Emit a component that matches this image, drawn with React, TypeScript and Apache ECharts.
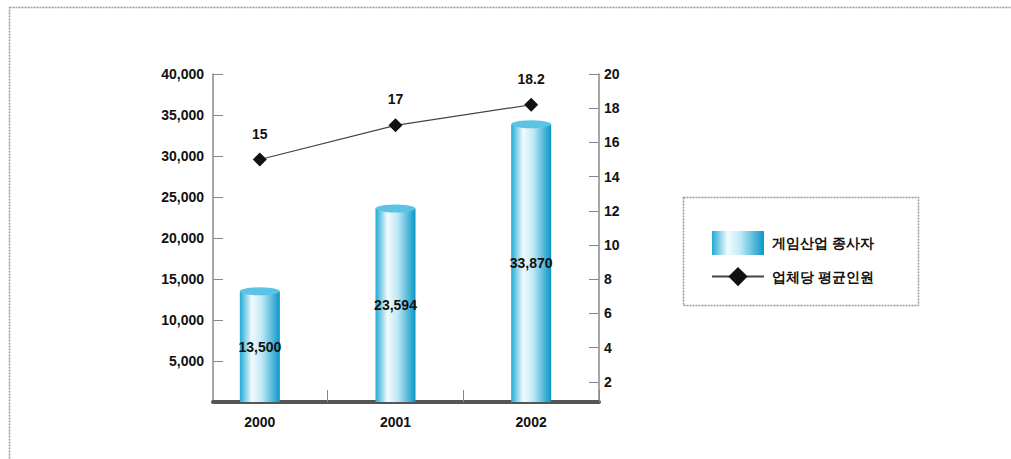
import React, { useEffect, useRef } from "react";
import * as echarts from "echarts";

const categories = ["2000", "2001", "2002"];
const workers = [13500, 23594, 33870];
const avgPerCompany = [15, 17, 18.2];
const leftTickValues = [5000, 10000, 15000, 20000, 25000, 30000, 35000, 40000];
const rightTickValues = [2, 4, 6, 8, 10, 12, 14, 16, 18, 20];
const barName = "게임산업 종사자";
const lineName = "업체당 평균인원";

const fmt = (v: number) => v.toLocaleString("en-US");
const FONT = "Liberation Sans";

export default function App() {
  const ref = useRef<HTMLDivElement>(null);
  useEffect(() => {
    if (!ref.current) return;
    const chart = echarts.init(ref.current, undefined, { renderer: "svg" });
    const barGradient = new echarts.graphic.LinearGradient(0, 0, 1, 0, [
      { offset: 0, color: "#22aad4" },
      { offset: 0.3, color: "#f2fbfe" },
      { offset: 0.55, color: "#bfe9f6" },
      { offset: 1, color: "#0a96c6" },
    ]);
    const textBase = { fontFamily: FONT, fontSize: 14, fontWeight: "bold" as const, color: "#111" };
    chart.setOption({
      animation: false,
      backgroundColor: "#fff",
      grid: [
        { left: 213, top: 74, width: 386, height: 328 },
        { left: 192, top: 74, width: 407, height: 328 },
        { left: 192, top: 74, width: 407, height: 342 },
      ],
      xAxis: [
        {
          gridIndex: 0, type: "category", data: categories,
          axisLine: { lineStyle: { color: "#555", width: 4 } },
          axisTick: { show: false }, axisLabel: { show: false }, splitLine: { show: false },
        },
        {
          gridIndex: 1, type: "category", data: categories,
          axisLine: { show: false },
          axisTick: { show: true, inside: true, length: 12, interval: (i: number) => i === 1 || i === 2, lineStyle: { color: "#888" } },
          axisLabel: { ...textBase, margin: 13 },
        },
        { gridIndex: 2, type: "category", data: categories, show: false },
      ],
      yAxis: [
        {
          gridIndex: 0, type: "value", position: "left", min: 0, max: 40000, interval: 5000,
          axisLine: { show: true, lineStyle: { color: "#888", width: 1.5 } },
          axisTick: { show: true, inside: true, length: 10, customValues: leftTickValues, lineStyle: { color: "#888" } },
          axisLabel: { ...textBase, margin: 9, customValues: leftTickValues, formatter: (v: number) => fmt(v) },
          splitLine: { show: false },
        },
        {
          gridIndex: 0, type: "value", position: "right", min: 0, max: 40000,
          axisLine: { show: true, lineStyle: { color: "#888", width: 1.5 } },
          axisTick: { show: false }, axisLabel: { show: false }, splitLine: { show: false },
        },
        { gridIndex: 1, type: "value", min: 0, max: 40000, show: false },
        {
          gridIndex: 2, type: "value", position: "right", min: 0, max: 20, interval: 2,
          axisLine: { show: false },
          axisTick: { show: true, inside: true, length: 10, customValues: rightTickValues, lineStyle: { color: "#888" } },
          axisLabel: { ...textBase, margin: 5, customValues: rightTickValues },
          splitLine: { show: false },
        },
      ],
      legend: {
        left: 706, top: 226, orient: "vertical", itemWidth: 52, itemHeight: 24, itemGap: 12,
        data: [{ name: barName, icon: "rect" }, { name: lineName }],
        textStyle: { ...textBase, padding: [0, 0, 0, 3] },
      },
      graphic: [
        { type: "rect", shape: { x: 9.5, y: 7.5, width: 1100, height: 600 }, style: { fill: "none", stroke: "#999", lineWidth: 1.5, lineDash: [2, 1] }, silent: true },
        { type: "rect", shape: { x: 683.5, y: 197.5, width: 235, height: 108 }, style: { fill: "none", stroke: "#999", lineWidth: 1.5, lineDash: [2, 1] }, silent: true },
      ],
      series: [
        {
          name: barName, type: "bar", xAxisIndex: 1, yAxisIndex: 2, data: workers, barWidth: 40,
          itemStyle: { color: barGradient },
          label: { show: true, position: "inside", ...textBase, formatter: (p: any) => fmt(p.value) },
          z: 2,
        },
        {
          type: "pictorialBar", xAxisIndex: 1, yAxisIndex: 2, data: workers,
          symbol: "circle", symbolSize: [40, 8], symbolPosition: "end", symbolOffset: [0, "-50%"],
          itemStyle: { color: "#5cc3e4" }, z: 3, silent: true,
        },
        {
          name: lineName, type: "line", xAxisIndex: 2, yAxisIndex: 3, data: avgPerCompany,
          symbol: "diamond", symbolSize: 14,
          itemStyle: { color: "#111" },
          lineStyle: { color: "#444", width: 1.2 },
          label: { show: true, position: "top", distance: 12, ...textBase },
          z: 4,
        },
      ],
    });
    return () => chart.dispose();
  }, []);
  return <div ref={ref} style={{ position: "absolute", left: 0, top: 0, width: 1011, height: 459 }} />;
}
